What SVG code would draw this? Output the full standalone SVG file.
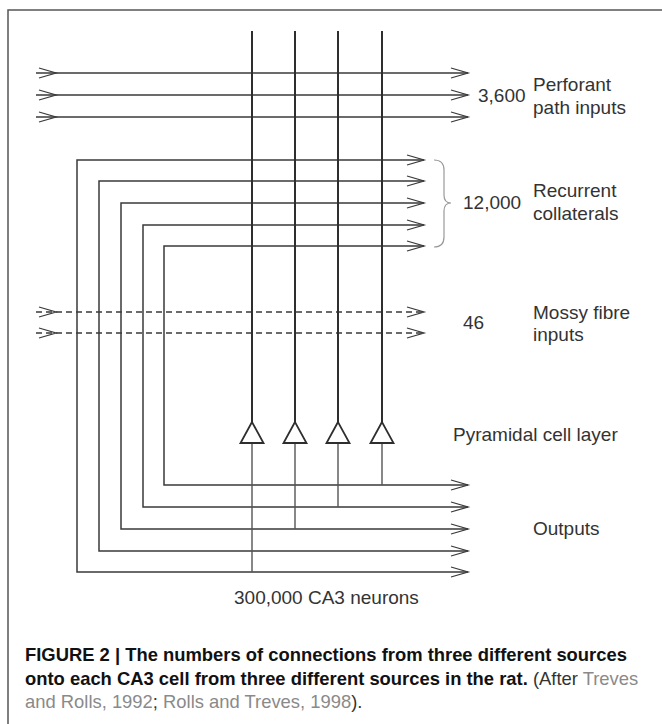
<svg xmlns="http://www.w3.org/2000/svg" width="662" height="724" viewBox="0 0 662 724">
<style>
.ln{fill:none;stroke:#3a3a3a;stroke-width:1.5}
.dash{stroke-dasharray:6 4}
.vt{fill:none;stroke:#2e2e2e;stroke-width:2}
.vb{fill:none;stroke:#555;stroke-width:1.4}
.tri{fill:#fff;stroke:#2e2e2e;stroke-width:1.8;stroke-linejoin:miter}
.lbl{font-family:"Liberation Sans",Arial,sans-serif;font-size:19px;fill:#333}
.cap{font-family:"Liberation Sans",Arial,sans-serif;font-size:18.4px}
.b{font-weight:bold;fill:#111}
.r{fill:#333}
.g{fill:#8a8a8a}
</style>
<defs>
<marker id="chev" markerUnits="userSpaceOnUse" markerWidth="20" markerHeight="12" refX="17" refY="6" orient="auto-start-reverse" overflow="visible">
<path d="M0,1 L17,6 L0,11" fill="none" stroke="#3a3a3a" stroke-width="1.3" stroke-dasharray="none"/>
</marker>
</defs>
<g id="frame">
<path d="M8,724 L8,10 L662,10" fill="none" stroke="#555" stroke-width="1.5"/>
</g>
<g id="connectors">
<path class="ln" d="M36,73 L56,73 L468,73" marker-mid="url(#chev)" marker-end="url(#chev)"/>
<path class="ln" d="M36,95 L56,95 L468,95" marker-mid="url(#chev)" marker-end="url(#chev)"/>
<path class="ln" d="M36,117 L56,117 L468,117" marker-mid="url(#chev)" marker-end="url(#chev)"/>
<path class="ln dash" d="M36,312 L56,312 L424,312" marker-mid="url(#chev)" marker-end="url(#chev)"/>
<path class="ln dash" d="M36,333 L56,333 L424,333" marker-mid="url(#chev)" marker-end="url(#chev)"/>
<path class="ln" d="M468,572 L77,572 L77,160 L424,160" marker-start="url(#chev)" marker-end="url(#chev)"/>
<path class="ln" d="M468,551 L99,551 L99,181 L424,181" marker-start="url(#chev)" marker-end="url(#chev)"/>
<path class="ln" d="M468,529 L121,529 L121,203 L424,203" marker-start="url(#chev)" marker-end="url(#chev)"/>
<path class="ln" d="M468,507 L143,507 L143,225 L424,225" marker-start="url(#chev)" marker-end="url(#chev)"/>
<path class="ln" d="M468,485 L164,485 L164,246 L424,246" marker-start="url(#chev)" marker-end="url(#chev)"/>
<path class="vt" d="M252,31 L252,422"/>
<path class="vt" d="M295,31 L295,422"/>
<path class="vt" d="M338,31 L338,422"/>
<path class="vt" d="M382,31 L382,422"/>
<path class="vb" d="M252,443 L252,572"/>
<path class="vb" d="M295,443 L295,529"/>
<path class="vb" d="M338,443 L338,507"/>
<path class="vb" d="M382,443 L382,485"/>
<path d="M434,160 Q444,160 444,170 L444,195 Q444,203 451,203 Q444,203 444,211 L444,237 Q444,247 434,247" fill="none" stroke="#999" stroke-width="1.2"/>
</g>
<g id="cell1"><path class="tri" d="M252,422 L240.5,443 L263.5,443 Z"/></g>
<g id="cell2"><path class="tri" d="M295,422 L283.5,443 L306.5,443 Z"/></g>
<g id="cell3"><path class="tri" d="M338,422 L326.5,443 L349.5,443 Z"/></g>
<g id="cell4"><path class="tri" d="M382,422 L370.5,443 L393.5,443 Z"/></g>
<g id="labels">
<text class="lbl" x="478" y="102">3,600</text>
<text class="lbl" x="533" y="91">Perforant</text>
<text class="lbl" x="533" y="114">path inputs</text>
<text class="lbl" x="463" y="209">12,000</text>
<text class="lbl" x="533" y="197">Recurrent</text>
<text class="lbl" x="533" y="220">collaterals</text>
<text class="lbl" x="463" y="329">46</text>
<text class="lbl" x="533" y="319">Mossy fibre</text>
<text class="lbl" x="533" y="341">inputs</text>
<text class="lbl" x="453" y="441">Pyramidal cell layer</text>
<text class="lbl" x="533" y="535">Outputs</text>
<text class="lbl" x="234" y="604">300,000 CA3 neurons</text>
</g>
<g id="caption">
<text class="cap b" x="25" y="661">FIGURE 2 | The numbers of connections from three different sources</text>
<text class="cap" x="25" y="685"><tspan class="b">onto each CA3 cell from three different sources in the rat.</tspan><tspan class="r"> (After </tspan><tspan class="g">Treves</tspan></text>
<text class="cap" x="25" y="708"><tspan class="g">and Rolls, 1992</tspan><tspan class="r">; </tspan><tspan class="g">Rolls and Treves, 1998</tspan><tspan class="r">).</tspan></text>
</g>
</svg>
